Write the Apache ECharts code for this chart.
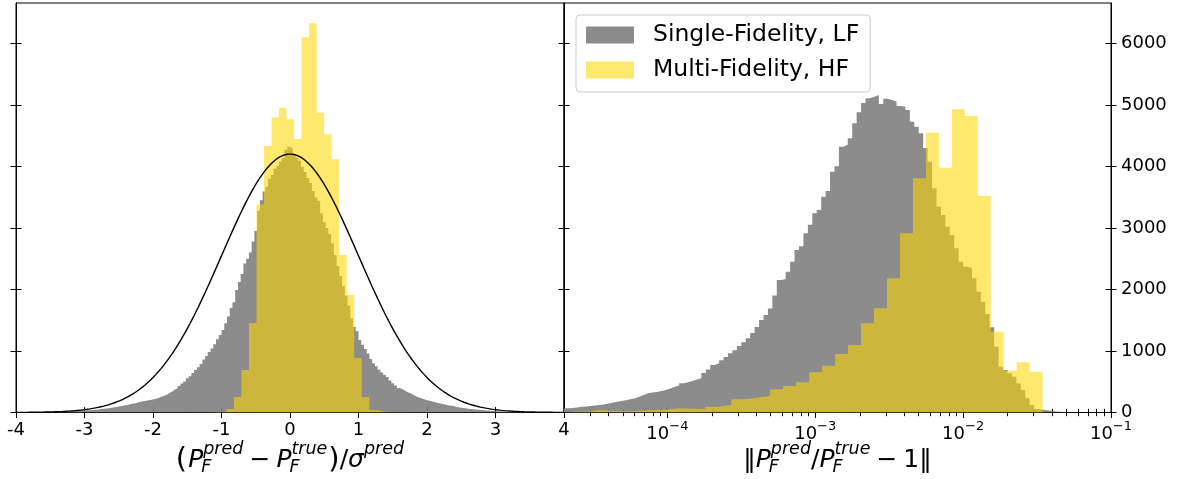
<!DOCTYPE html>
<html>
<head>
<meta charset="utf-8">
<script src="https://cdn.jsdelivr.net/npm/echarts@6/dist/echarts.min.js"></script>
<style>
  html, body { margin: 0; padding: 0; background: #ffffff; }
  #chart { width: 1178px; height: 479px; }
</style>
</head>
<body>
<div id="chart"></div>
<script>
// ---------------- data ----------------
// Left panel: normalised residuals (P_pred - P_true) / sigma_pred
const pullSingleStart = -4.0;     // first bin edge
const pullSingleWidth = 0.04;     // bin width
const pullSingleCounts = [
  4, 6, 5, 7, 8, 7, 9, 10, 9, 12, 11, 13, 14, 13, 16, 17, 18, 17, 20, 22, 24, 23, 27, 30, 33,
  36, 38, 42, 45, 50, 55, 60, 66, 70, 78, 85, 92, 100, 110, 118, 125, 138, 148, 155, 170, 180, 188, 195, 205, 212,
  222, 235, 255, 270, 290, 318, 340, 372, 395, 430, 470, 505, 555, 590, 640, 690, 735, 790, 860, 920, 985, 1040, 1110, 1190, 1260,
  1340, 1450, 1560, 1700, 1790, 1990, 2120, 2250, 2420, 2500, 2600, 2780, 2950, 3280, 3450, 3590, 3670, 3800, 3860, 3960, 4010, 4080, 4140, 4270, 4320,
  4290, 4200, 4140, 4090, 3990, 3910, 3810, 3730, 3600, 3500, 3440, 3240, 3090, 3000, 2900, 2750, 2560, 2380, 2220, 2050, 1900, 1740, 1530, 1390, 1320,
  1180, 1100, 1030, 960, 870, 800, 750, 695, 650, 610, 575, 520, 475, 440, 400, 380, 355, 330, 312, 290, 265, 245, 230, 215, 200,
  190, 178, 165, 155, 145, 135, 125, 115, 108, 100, 90, 82, 75, 68, 62, 57, 52, 47, 43, 40, 36, 32, 29, 26, 24,
  22, 20, 18, 17, 15, 14, 13, 12, 11, 10, 10, 9, 8, 8, 7, 7, 6, 6, 5, 5, 5, 4, 4, 4, 3
];
const pullMultiStart = -1.5874;
const pullMultiWidth = 0.1098;
const pullMultiCounts = [
  2, 3, 4, 5, 7, 10, 55, 250, 690, 1450, 3380, 4331, 4797, 4954, 4765, 4445, 6098, 6325,
  4873, 4521, 4115, 2560, 1910, 886, 252, 40, 12, 6, 4, 3, 2, 2, 1
];
// reference standard normal curve (sigma = 1), scaled to the histogram counts
const normalPeak = 4200;
const normalSigma = 1;

// Right panel: relative error |P_pred / P_true - 1|, bins in log10 units
const relSingleStartLog = -4.70;
const relSingleWidthLog = 0.03;
const relSingleCounts = [
  70, 75, 82, 92, 98, 105, 112, 122, 132, 145, 160, 176, 185, 200, 215, 231, 255, 285, 312, 325,
  335, 350, 366, 390, 420, 440, 474, 490, 510, 535, 556, 640, 700, 772, 800, 850, 900, 962, 1010, 1080,
  1140, 1206, 1290, 1390, 1503, 1585, 1690, 1900, 2153, 2170, 2288, 2450, 2641, 2700, 2912, 3050, 3237, 3290, 3507, 3600,
  3914, 4000, 4320, 4350, 4456, 4700, 4880, 5030, 5106, 5133, 5160, 5014, 5100, 5079, 5051, 4981, 4970, 4916, 4726, 4645,
  4537, 4300, 4076, 3643, 3345, 3210, 3020, 2885, 2669, 2451, 2370, 2343, 2181, 1963, 1801, 1601, 1385, 1069, 745, 691,
  637, 582, 474, 366, 231, 122, 55, 45, 38, 28, 18, 12, 8, 5
];
const relMultiStartLog = -4.7074;
const relMultiWidthLog = 0.0877;
const relMultiCounts = [
  10, 15, 41, 25, 20, 30, 41, 45, 68, 60, 57, 94, 122, 215, 241, 273, 377,
  431, 490, 653, 761, 951, 1097, 1450, 1694, 2181,
  2912, 3806, 4548, 3979, 4927, 4819, 3524, 1313, 680, 815, 664
];

// axes
const pullTicks = [-4, -3, -2, -1, 0, 1, 2, 3, 4];
const countTicks = [0, 1000, 2000, 3000, 4000, 5000, 6000];
const relMajorTicks = [1e-4, 1e-3, 1e-2, 1e-1];
const relMinorMantissas = [2, 3, 4, 5, 6, 7, 8, 9];
const relMinorDecades = [-5, -4, -3, -2];

const legendNames = ['Single-Fidelity, LF', 'Multi-Fidelity, HF'];

// ---------------- styling ----------------
const FONT = '"DejaVu Sans", sans-serif';
const GRAY = 'rgba(128,128,128,0.9)';
const GOLD = 'rgba(255,215,0,0.57)';
const COUNT_MAX = 6655;

// ---------------- helpers ----------------
// closed step outline for a histogram (left bin edges + counts)
function histogramPath(start, width, counts, toX) {
  const pts = [[toX(start), 0]];
  counts.forEach((c, i) => pts.push([toX(start + i * width), c]));
  const end = toX(start + counts.length * width);
  pts.push([end, counts[counts.length - 1]]);
  pts.push([end, 0]);
  return pts;
}
const linX = v => v;
const logX = v => Math.pow(10, v);

const normalCurve = [];
for (let i = 0; i <= 400; i++) {
  const x = -4 + i * 0.02;
  normalCurve.push([x, normalPeak * Math.exp(-0.5 * (x / normalSigma) * (x / normalSigma))]);
}

const relMinorTicks = [];
relMinorDecades.forEach(d => relMinorMantissas.forEach(m => {
  const v = m * Math.pow(10, d);
  if (v > 2.05e-5 && v < 0.1) relMinorTicks.push(v);
}));

function histSeries(name, color, xi, yi, data) {
  return {
    name, type: 'line', step: 'end', xAxisIndex: xi, yAxisIndex: yi,
    data, symbol: 'none', silent: true, clip: true,
    lineStyle: { width: 0, color },
    itemStyle: { color },
    areaStyle: { color, opacity: 1 }
  };
}

const tickStyle = { color: '#000', width: 1 };
function valueXAxis(inside, showLabel) {
  return {
    gridIndex: 0, type: 'value', min: -4, max: 4, interval: 1, position: 'bottom',
    axisLine: { show: !inside, onZero: false, lineStyle: { color: '#000', width: 1 } },
    axisTick: { show: true, inside, length: 5.5, lineStyle: tickStyle },
    axisLabel: { show: showLabel, fontSize: 18, color: '#000', fontFamily: FONT, margin: 9 },
    splitLine: { show: false }
  };
}
function logXAxis(inside, ticks, len, showLabel) {
  return {
    gridIndex: 1, type: 'log', logBase: 10, min: 2e-5, max: 0.1, position: 'bottom',
    axisLine: { show: !inside && showLabel, onZero: false, lineStyle: { color: '#000', width: 1 } },
    axisTick: { show: true, inside, length: len, customValues: ticks, lineStyle: tickStyle },
    axisLabel: {
      show: showLabel, customValues: relMajorTicks, margin: 8, color: '#000',
      formatter: v => '{b|10}{s|\u2212' + Math.abs(Math.round(Math.log10(v))) + '}',
      rich: {
        b: { fontSize: 18, fontFamily: FONT, color: '#000', padding: [5, 0, 0, 0], verticalAlign: 'bottom' },
        s: { fontSize: 13, fontFamily: FONT, color: '#000', verticalAlign: 'top' }
      }
    },
    splitLine: { show: false }, minorTick: { show: false }
  };
}
function countYAxis(grid, position, inside, showLabel) {
  return {
    gridIndex: grid, type: 'value', min: 0, max: COUNT_MAX, position,
    axisLine: { show: !inside, onZero: false, lineStyle: { color: '#000', width: 1 } },
    axisTick: { show: true, inside, length: 5.5, customValues: countTicks, lineStyle: tickStyle },
    axisLabel: {
      show: showLabel, customValues: countTicks, fontSize: 18, color: '#000', fontFamily: FONT,
      margin: 10, formatter: v => String(v)
    },
    splitLine: { show: false }
  };
}

// ---------------- axis titles (math-style text) ----------------
const measureCtx = document.createElement('canvas').getContext('2d');
function textWidth(str, font) { measureCtx.font = font; return measureCtx.measureText(str).width; }
const MAIN = 25, SCRIPT = 17.5, SUP_RISE = -13, SUB_DROP = 5;
function mathText(parts, cx, base) {
  const items = [];
  let x = 0;
  parts.forEach(p => {
    x += p.pre || 0;
    if (p.t !== undefined) {
      const font = (p.it ? 'italic ' : '') + (p.fs || MAIN) + 'px ' + FONT;
      items.push({ text: p.t, x, dy: p.dy || 0, font, fs: p.fs || MAIN });
      x += textWidth(p.t, font);
    } else {
      const font = 'italic ' + SCRIPT + 'px ' + FONT;
      let w = 0;
      if (p.sup) { items.push({ text: p.sup, x, dy: SUP_RISE, font, fs: SCRIPT }); w = Math.max(w, textWidth(p.sup, font)); }
      if (p.sub) { items.push({ text: p.sub, x: x - 2, dy: SUB_DROP, font, fs: SCRIPT }); w = Math.max(w, textWidth(p.sub, font)); }
      x += w;
    }
    x += p.post || 0;
  });
  const x0 = cx - x / 2;
  return items.map(it => ({
    type: 'text', x: x0 + it.x, y: base + it.dy - 0.3 * it.fs, silent: true,
    style: { text: it.text, font: it.font, fill: '#000', align: 'left', verticalAlign: 'middle' }
  }));
}
const leftTitle = mathText([
  { t: '(', fs: 29, dy: 1, post: 1 },
  { t: 'P', it: true },
  { sup: 'pred', sub: 'F' },
  { t: '\u2212', pre: 6, post: 6 },
  { t: 'P', it: true },
  { sup: 'true', sub: 'F' },
  { t: ')', fs: 29, dy: 1, pre: 1 },
  { t: '/' },
  { t: '\u03c3', it: true },
  { sup: 'pred' }
], 290, 468);
const rightTitle = mathText([
  { t: '\u2016' },
  { t: 'P', it: true },
  { sup: 'pred', sub: 'F' },
  { t: '/' },
  { t: 'P', it: true },
  { sup: 'true', sub: 'F' },
  { t: '\u2212', pre: 6, post: 6 },
  { t: '1' },
  { t: '\u2016' }
], 837.5, 468);

// ---------------- chart ----------------
const chart = echarts.init(document.getElementById('chart'), null, { renderer: 'canvas' });
chart.setOption({
  animation: false,
  backgroundColor: '#ffffff',
  textStyle: { fontFamily: FONT },
  grid: [
    { left: 16, top: 3, width: 548, height: 409.5, show: true, borderColor: '#000', borderWidth: 1, backgroundColor: 'transparent' },
    { left: 564, top: 3, width: 547, height: 409.5, show: true, borderColor: '#000', borderWidth: 1, backgroundColor: 'transparent' }
  ],
  xAxis: [
    valueXAxis(false, true),
    valueXAxis(true, false),
    logXAxis(false, relMajorTicks, 5.5, true),
    logXAxis(true, relMajorTicks, 5.5, false),
    logXAxis(false, relMinorTicks, 3.7, false),
    logXAxis(true, relMinorTicks, 3.7, false)
  ],
  yAxis: [
    countYAxis(0, 'left', false, false),
    countYAxis(0, 'left', true, false),
    countYAxis(1, 'right', false, true),
    countYAxis(1, 'right', true, false),
    countYAxis(1, 'left', false, false),
    countYAxis(1, 'left', true, false)
  ],
  legend: {
    left: 576, top: 15, orient: 'vertical',
    data: [
      { name: legendNames[0], itemStyle: { color: GRAY } },
      { name: legendNames[1], itemStyle: { color: GOLD } }
    ],
    icon: 'rect', itemWidth: 48, itemHeight: 17, itemGap: 11,
    itemStyle: { borderWidth: 0 },
    backgroundColor: 'rgba(255,255,255,0.8)', borderColor: '#cccccc', borderWidth: 1, borderRadius: 4,
    padding: [8, 11, 10, 10],
    textStyle: { fontSize: 23.5, fontFamily: FONT, color: '#000', padding: [0, 0, 0, 14] },
    selectedMode: false
  },
  series: [
    histSeries(legendNames[0], GRAY, 0, 0, histogramPath(pullSingleStart, pullSingleWidth, pullSingleCounts, linX)),
    histSeries(legendNames[1], GOLD, 0, 0, histogramPath(pullMultiStart, pullMultiWidth, pullMultiCounts, linX)),
    {
      name: 'Standard normal', type: 'line', xAxisIndex: 0, yAxisIndex: 0, data: normalCurve,
      symbol: 'none', silent: true, lineStyle: { color: '#000', width: 1.4 }, z: 5
    },
    histSeries(legendNames[0], GRAY, 2, 2, histogramPath(relSingleStartLog, relSingleWidthLog, relSingleCounts, logX)),
    histSeries(legendNames[1], GOLD, 2, 2, histogramPath(relMultiStartLog, relMultiWidthLog, relMultiCounts, logX))
  ],
  graphic: { elements: leftTitle.concat(rightTitle) }
});
</script>
</body>
</html>
